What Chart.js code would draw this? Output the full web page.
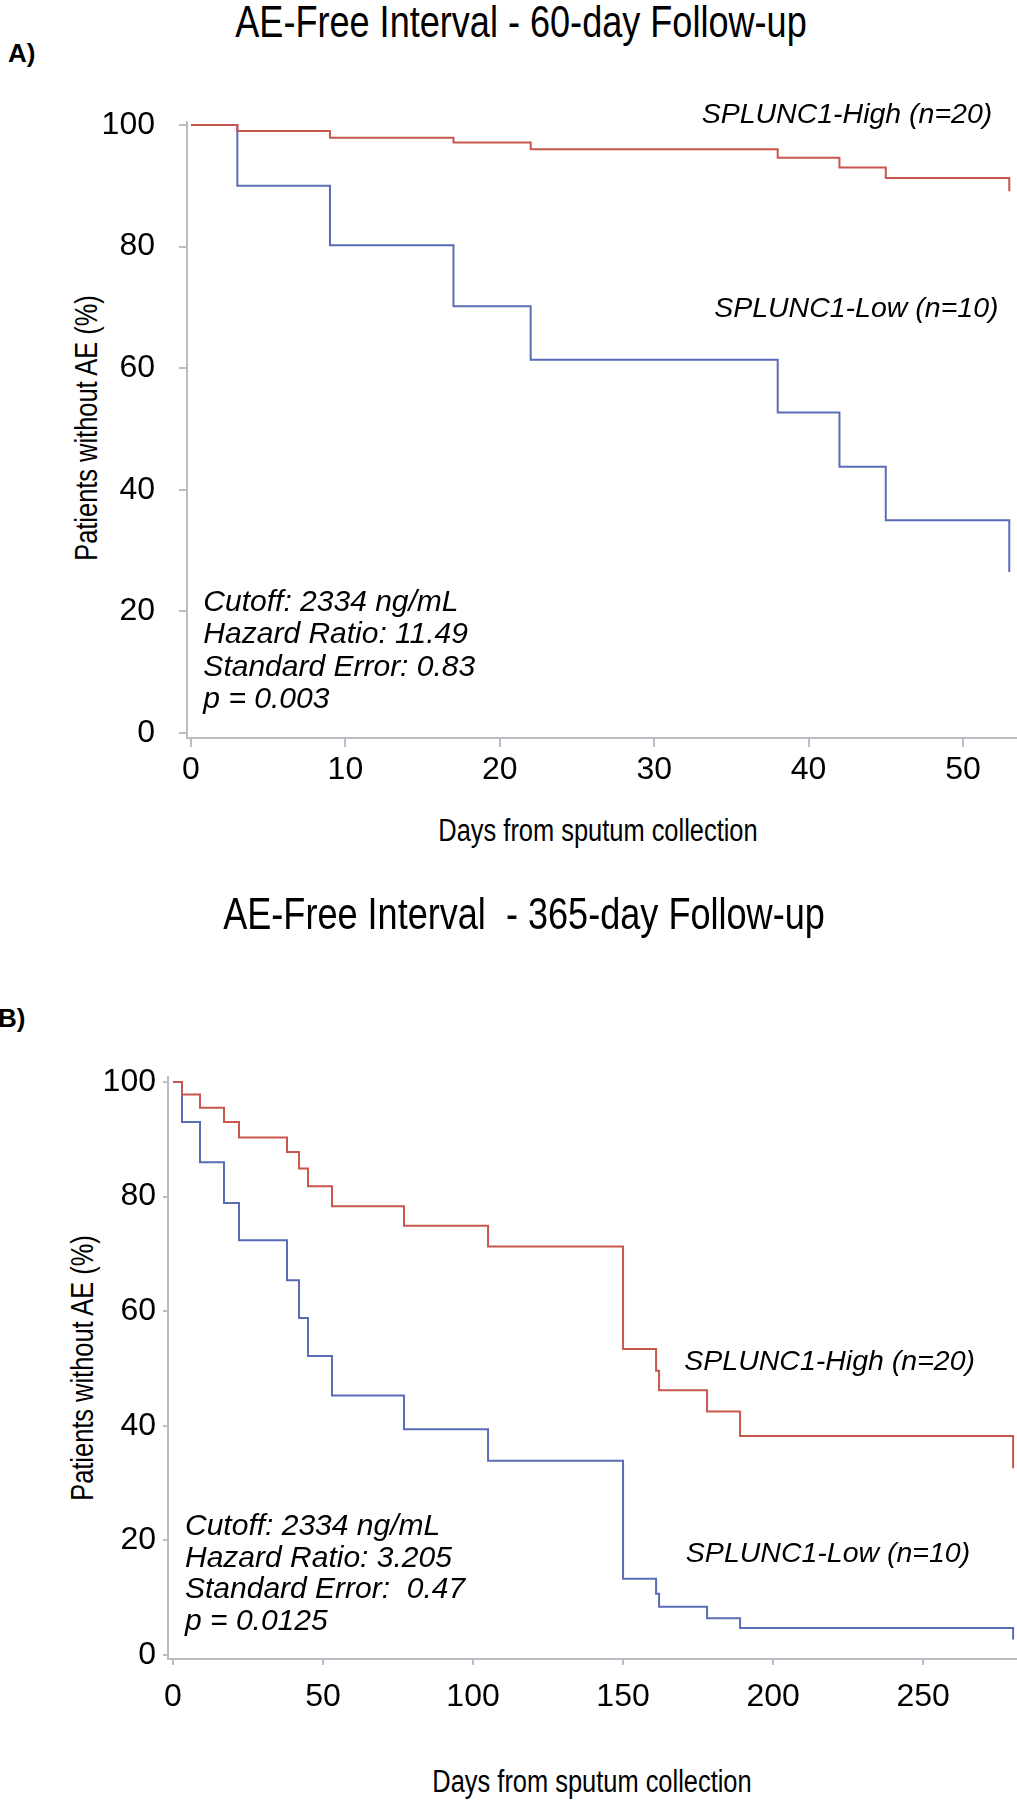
<!DOCTYPE html>
<html>
<head>
<meta charset="utf-8">
<script src="https://cdn.jsdelivr.net/npm/chart.js@4.4.0/dist/chart.umd.min.js"></script>
<style>
  body { margin: 0; background: #fff; width: 1017px; height: 1800px; position: relative; overflow: hidden;
         font-family: "Liberation Sans", Arial, sans-serif; color: #000; }
  .panel { position: absolute; left: 0; width: 1017px; height: 900px; }
  .panel canvas { position: absolute; left: 0; top: 0; }
  /* condensed look: the source uses a narrow sans for titles */
  .txt { position: absolute; white-space: pre; line-height: 1; transform: translate(-50%, -50%) scaleX(0.82); }
  .title { font-size: 44px; }
  .axt { font-size: 31px; }
  .yt { transform: translate(-50%, -50%) rotate(-90deg) scaleX(0.82); }
  .tag { position: absolute; font-weight: bold; font-size: 26px; line-height: 1; transform: translateY(-50%); }
</style>
</head>
<body>
<div class="txt title" style="left:521px;top:22px">AE-Free Interval - 60-day Follow-up</div>
<div class="tag" style="left:8px;top:53px">A)</div>
<div class="txt axt yt" style="left:86px;top:428px">Patients without AE (%)</div>
<div class="txt axt" style="left:598px;top:830px">Days from sputum collection</div>
<div class="panel" style="top:0"><canvas id="chartA" width="1017" height="900"></canvas></div>

<div class="txt title" style="left:524px;top:914px">AE-Free Interval  - 365-day Follow-up</div>
<div class="tag" style="left:-2px;top:1018px">B)</div>
<div class="txt axt yt" style="left:82px;top:1368px">Patients without AE (%)</div>
<div class="txt axt" style="left:592px;top:1781px">Days from sputum collection</div>
<div class="panel" style="top:900px"><canvas id="chartB" width="1017" height="900"></canvas></div>

<script>
// ===== Dados =====
// A) 60 dias
const daysA = [0, 3, 9, 17, 22, 38, 42, 45, 53];
const highA = [100, 99.0, 97.9, 97.1, 96.0, 94.6, 93.0, 91.3, 89.1];
const lowA  = [100, 90.0, 80.2, 70.2, 61.4, 52.7, 43.8, 35.0, 26.5];
const xTicksA = [0, 10, 20, 30, 40, 50];

// B) 365 dias
const daysB = [0, 3, 9, 17, 22, 38, 42, 45, 53, 77, 105, 150, 161, 162, 178, 189, 280];
const highB = [100, 97.8, 95.5, 93.0, 90.3, 87.8, 84.9, 81.8, 78.3, 74.9, 71.3, 53.4, 49.6, 46.2, 42.5, 38.2, 32.6];
const lowB  = [100, 93.0, 86.0, 78.9, 72.4, 65.4, 58.8, 52.2, 45.3, 39.4, 33.9, 13.3, 10.7, 8.4, 6.4, 4.7, 2.7];
const xTicksB = [0, 50, 100, 150, 200, 250];

const yTicks = [0, 20, 40, 60, 80, 100];

const RED = "#c8564d";
const BLUE = "#5b6cb7";
const AXIS = "#babdc3";

// ===== Textos dentro do gráfico (em coordenadas de dados) =====
const notes = {
  id: "notes",
  afterDatasetsDraw(chart, args, opts) {
    const { ctx, scales: { x, y } } = chart;
    ctx.save();
    ctx.fillStyle = "#000";
    ctx.textBaseline = "alphabetic";
    opts.items.forEach(it => {
      ctx.font = it.font;
      ctx.textAlign = it.align;
      it.lines.forEach((line, i) => {
        ctx.fillText(line, x.getPixelForValue(it.x), y.getPixelForValue(it.y) + i * it.lh);
      });
    });
    ctx.restore();
  }
};

function toPts(days, vals) {
  return days.map((d, i) => ({ x: d, y: vals[i] }));
}

function km(canvasId, cfg) {
  const ctx = document.getElementById(canvasId).getContext("2d");
  return new Chart(ctx, {
    type: "line",
    data: {
      datasets: [
        { data: toPts(cfg.days, cfg.high), borderColor: RED, borderWidth: 2, stepped: true, pointRadius: 0, fill: false },
        { data: toPts(cfg.days, cfg.low), borderColor: BLUE, borderWidth: 2, stepped: true, pointRadius: 0, fill: false }
      ]
    },
    options: {
      responsive: false,
      animation: false,
      events: [],
      layout: { padding: { top: cfg.top, left: 0, right: 0, bottom: 0 } },
      plugins: {
        legend: { display: false },
        tooltip: { enabled: false },
        notes: { items: cfg.notes }
      },
      scales: {
        x: {
          type: "linear",
          min: cfg.xMin, max: cfg.xMax,
          afterFit: s => { s.height = cfg.xH; },
          afterBuildTicks: s => { s.ticks = cfg.xTicks.map(v => ({ value: v })); },
          grid: { drawOnChartArea: false, drawTicks: true, tickLength: cfg.xTick, color: AXIS, lineWidth: 2 },
          border: { display: true, color: AXIS, width: 2 },
          ticks: { color: "#000", font: { family: "Liberation Sans", size: 32 }, padding: cfg.xPad, maxRotation: 0 }
        },
        y: {
          type: "linear",
          min: cfg.yMin, max: cfg.yMax,
          afterFit: s => { s.width = cfg.yW; },
          afterBuildTicks: s => { s.ticks = yTicks.map(v => ({ value: v })); },
          grid: { drawOnChartArea: false, drawTicks: true, tickLength: cfg.yTick, color: AXIS, lineWidth: 2 },
          border: { display: true, color: AXIS, width: 2 },
          ticks: { color: "#000", font: { family: "Liberation Sans", size: 32 }, padding: cfg.yPad }
        }
      }
    },
    plugins: [notes]
  });
}

const noteFont = "italic 30px 'Liberation Sans'";
const labelFont = "italic 28.5px 'Liberation Sans'";

km("chartA", {
  days: daysA, high: highA, low: lowA, xTicks: xTicksA,
  xMin: -0.26, xMax: 53.5, yMin: -0.82, yMax: 100.49,
  top: 122, yW: 187, xH: 162, xTick: 9, yTick: 8, xPad: 4, yPad: 24,
  notes: [
    { x: 0.8, y: 20.1, lh: 32.5, align: "left", font: noteFont,
      lines: ["Cutoff: 2334 ng/mL", "Hazard Ratio: 11.49", "Standard Error: 0.83", "p = 0.003"] },
    { x: 51.9, y: 100.3, lh: 0, align: "right", font: labelFont, lines: ["SPLUNC1-High (n=20)"] },
    { x: 52.3, y: 68.4, lh: 0, align: "right", font: labelFont, lines: ["SPLUNC1-Low (n=10)"] }
  ]
});

km("chartB", {
  days: daysB, high: highB, low: lowB, xTicks: xTicksB,
  xMin: -1.67, xMax: 281.3, yMin: -0.7, yMax: 100.87,
  top: 177, yW: 168, xH: 141, xTick: 6, yTick: 5, xPad: 13, yPad: 7,
  notes: [
    { x: 4, y: 20.9, lh: 31.5, align: "left", font: noteFont,
      lines: ["Cutoff: 2334 ng/mL", "Hazard Ratio: 3.205", "Standard Error:  0.47", "p = 0.0125"] },
    { x: 267.3, y: 49.7, lh: 0, align: "right", font: labelFont, lines: ["SPLUNC1-High (n=20)"] },
    { x: 265.7, y: 16.2, lh: 0, align: "right", font: labelFont, lines: ["SPLUNC1-Low (n=10)"] }
  ]
});
</script>
</body>
</html>
